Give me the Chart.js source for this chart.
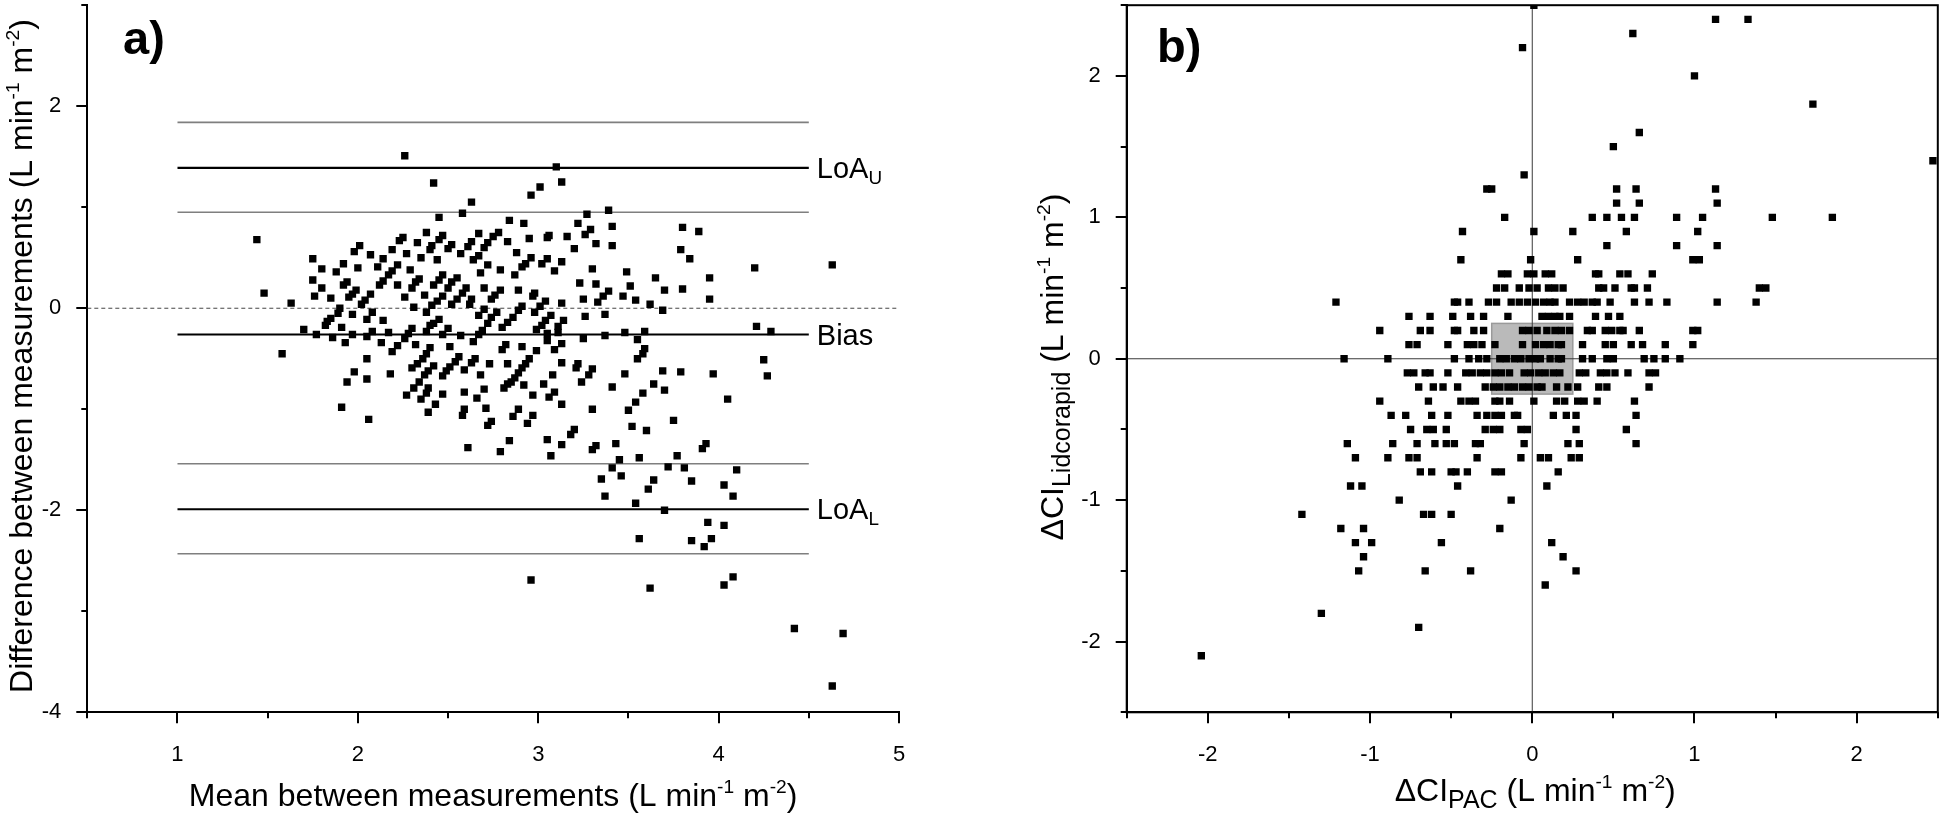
<!DOCTYPE html>
<html>
<head>
<meta charset="utf-8">
<title>Lidcorapid vs PAC: Bland-Altman and trending</title>
<script src="https://cdn.jsdelivr.net/npm/chart.js@4.4.1/dist/chart.umd.min.js"></script>
<style>
  html, body { margin: 0; padding: 0; background: #fff; }
  #wrap { position: relative; width: 1943px; height: 814px; overflow: hidden; }
  canvas { position: absolute; top: 0; }
  #panelA { left: 0; }
  #panelB { left: 960px; }
</style>
</head>
<body>
<div id="wrap">
  <canvas id="panelA" width="960" height="814"></canvas>
  <canvas id="panelB" width="983" height="814"></canvas>
</div>
<script>
const FONT = '"Liberation Sans", Arial, Helvetica, sans-serif';

// a) Bland-Altman: mean vs difference between the two measurements
const meanA = [
  2.26, 3.10, 2.42, 3.13, 3.01, 2.96, 2.63, 2.58, 3.27, 3.39, 2.45, 2.84, 2.92, 3.22, 3.41,
  3.29, 3.26, 1.44, 2.38, 2.47, 2.45, 2.67, 2.78, 2.75, 2.25, 2.23, 3.06, 3.05, 3.16, 2.95,
  2.83, 2.33, 2.52, 2.50, 2.63, 2.61, 2.72, 2.70, 2.01, 1.98, 2.19, 3.32, 3.41, 2.41, 2.40,
  3.20, 2.27, 2.07, 1.75, 2.14, 2.11, 2.35, 2.44, 2.57, 2.64, 2.67, 2.88, 2.96, 2.93, 2.91,
  3.05, 3.02, 3.13, 1.92, 2.22, 2.19, 1.80, 2.00, 2.29, 2.72, 2.68, 2.79, 3.09, 3.30, 3.49,
  1.88, 1.75, 2.17, 2.14, 2.12, 2.47, 2.45, 2.42, 2.34, 2.32, 2.30, 2.55, 2.52, 2.50, 2.87,
  1.94, 1.92, 2.22, 3.23, 3.32, 3.51, 3.65, 1.80, 1.99, 1.97, 1.95, 2.60, 2.58, 2.55, 2.52,
  2.70, 2.79, 2.76, 2.74, 2.89, 2.98, 2.97, 3.39, 3.36, 3.33, 3.47, 1.76, 1.85, 2.07, 2.04,
  2.02, 2.26, 2.37, 2.47, 2.44, 2.41, 2.38, 2.63, 2.62, 3.04, 3.01, 2.98, 3.13, 3.25, 3.54,
  3.62, 1.63, 2.31, 1.90, 1.89, 1.97, 2.08, 2.70, 2.67, 2.77, 2.74, 2.72, 2.91, 2.89, 3.37,
  1.85, 1.83, 2.14, 2.05, 2.45, 2.42, 2.86, 2.83, 2.80, 3.07, 3.04, 3.02, 2.99, 3.14, 3.11,
  3.26, 1.70, 1.82, 1.91, 1.77, 1.86, 1.93, 1.97, 2.08, 2.05, 2.17, 2.30, 2.28, 2.26, 2.40,
  2.38, 2.50, 2.47, 2.57, 2.69, 2.67, 3.05, 3.05, 3.11, 3.25, 3.37, 3.48, 3.59, 3.55, 2.13,
  2.32, 2.22, 2.19, 2.64, 2.51, 2.82, 2.80, 2.91, 2.99, 3.13, 3.09, 3.59, 3.58, 3.55, 1.58,
  2.05, 2.40, 2.38, 2.36, 2.33, 2.30, 2.56, 2.54, 2.51, 2.49, 2.47, 2.65, 2.63, 2.73, 2.83,
  2.95, 2.93, 2.91, 2.89, 2.87, 2.85, 2.83, 2.81, 3.13, 3.22, 3.21, 3.30, 3.28, 3.24, 3.48,
  1.98, 1.94, 2.18, 2.42, 2.39, 2.59, 2.68, 3.08, 2.05, 2.37, 2.34, 2.31, 2.27, 3.03, 3.41,
  3.64, 2.70, 2.39, 2.38, 2.35, 2.59, 2.47, 2.92, 2.97, 3.09, 3.06, 3.58, 3.54, 2.66, 1.91,
  2.43, 3.13, 2.39, 2.59, 2.58, 2.71, 2.89, 2.86, 3.30, 3.50, 2.06, 2.97, 2.94, 2.74, 2.72,
  3.52, 3.60, 3.20, 3.18, 2.61, 2.84, 2.79, 3.05, 3.13, 3.07, 3.32, 3.30, 3.43, 3.45, 3.56,
  3.41, 3.46, 3.35, 3.64, 1.48, 3.80, 3.89, 3.79, 3.84, 4.20, 4.63,
  3.95, 3.70, 3.80, 3.95, 3.69, 4.21, 4.29, 3.69, 3.79, 3.97, 4.25, 4.27, 3.70, 4.05, 3.75,
  3.93, 3.91, 3.77, 3.72, 3.81, 4.10, 3.85, 4.03, 4.08, 3.61, 3.37, 3.54, 3.70, 3.94, 4.03,
  3.56, 3.85, 3.96, 3.92, 2.96, 3.62, 4.03, 4.08, 4.42, 4.69, 4.63
];
const diffA = [
  1.51, 1.40, 1.24, 1.25, 1.20, 1.12, 1.05, 0.94, 0.93, 0.97, 0.90, 0.87, 0.84, 0.84, 0.81,
  0.78, 0.73, 0.68, 0.75, 0.72, 0.68, 0.74, 0.75, 0.71, 0.70, 0.67, 0.72, 0.70, 0.71, 0.69,
  0.66, 0.65, 0.63, 0.59, 0.66, 0.61, 0.65, 0.60, 0.62, 0.56, 0.58, 0.64, 0.62, 0.62, 0.58,
  0.59, 0.54, 0.53, 0.49, 0.49, 0.41, 0.50, 0.48, 0.54, 0.48, 0.52, 0.55, 0.50, 0.44, 0.41,
  0.49, 0.44, 0.46, 0.44, 0.43, 0.37, 0.39, 0.40, 0.38, 0.43, 0.35, 0.38, 0.37, 0.39, 0.36,
  0.36, 0.28, 0.33, 0.27, 0.23, 0.33, 0.28, 0.23, 0.29, 0.26, 0.20, 0.30, 0.26, 0.20, 0.33,
  0.26, 0.23, 0.23, 0.25, 0.24, 0.22, 0.30, 0.20, 0.18, 0.14, 0.11, 0.20, 0.15, 0.09, 0.04,
  0.20, 0.18, 0.13, 0.09, 0.18, 0.15, 0.12, 0.17, 0.12, 0.06, 0.12, 0.12, 0.10, 0.14, 0.08,
  0.04, 0.11, 0.13, 0.12, 0.07, 0.03, -0.04, 0.09, 0.04, 0.07, 0.02, -0.04, 0.05, 0.09, 0.08,
  0.04, 0.05, 0.01, 0.00, -0.05, -0.06, -0.04, -0.01, -0.07, -0.04, -0.09, -0.15, 0.02, -0.02, -0.06,
  -0.10, -0.13, -0.12, -0.11, -0.11, -0.15, -0.09, -0.14, -0.19, -0.07, -0.12, -0.17, -0.21, -0.12, -0.18,
  -0.08, -0.21, -0.17, -0.19, -0.26, -0.29, -0.34, -0.26, -0.23, -0.28, -0.24, -0.20, -0.25, -0.30, -0.17,
  -0.23, -0.20, -0.26, -0.27, -0.22, -0.26, -0.25, -0.32, -0.24, -0.30, -0.27, -0.24, -0.23, -0.31, -0.34,
  -0.36, -0.37, -0.43, -0.33, -0.38, -0.36, -0.41, -0.38, -0.42, -0.35, -0.41, -0.40, -0.45, -0.50, -0.45,
  -0.50, -0.39, -0.45, -0.50, -0.55, -0.59, -0.48, -0.53, -0.58, -0.62, -0.67, -0.50, -0.54, -0.55, -0.55,
  -0.50, -0.55, -0.59, -0.64, -0.69, -0.73, -0.75, -0.79, -0.54, -0.55, -0.59, -0.60, -0.66, -0.73, -0.65,
  -0.63, -0.73, -0.65, -0.57, -0.62, -0.61, -0.66, -0.66, -0.70, -0.66, -0.73, -0.79, -0.86, -0.75, -0.78,
  -0.75, -0.80, -0.79, -0.84, -0.90, -0.83, -0.85, -0.76, -0.86, -0.83, -0.88, -0.84, -0.93, -0.89, -0.98,
  -0.95, -0.95, -1.03, -1.00, -1.06, -0.99, -1.00, -1.07, -1.00, -1.01, -1.10, -1.06, -1.14, -1.12, -1.16,
  -1.17, -1.21, -1.20, -1.25, -1.38, -1.31, -1.42, -1.30, -1.35, -1.46, -1.36, -1.40, -1.34, -1.50, -1.48,
  -1.58, -1.66, -1.69, -1.70, 0.15, 0.80, 0.76, 0.58, 0.49, 0.40, 0.43,
  0.30, 0.18, 0.19, 0.09, -0.02, -0.18, -0.23, -0.62, -0.63, -0.65, -0.51, -0.67, -0.81, -0.90, -1.11,
  -1.34, -1.39, -1.46, -1.57, -1.58, -1.60, -1.71, -1.75, -1.86, -1.79, -1.86, -1.93, -2.00, -2.12, -2.15,
  -2.28, -2.30, -2.28, -2.36, -2.69, -2.77, -2.74, -2.66, -3.17, -3.22, -3.74
];

// bias, limits of agreement and the confidence band lines around them
const limitValues = [1.84, 1.39, 0.95, -0.26, -1.54, -1.99, -2.43];
const limitKinds = ['ci', 'loa', 'ci', 'bias', 'ci', 'loa', 'ci'];
const limitNames = [null, ['LoA', 'U'], null, ['Bias', ''], null, ['LoA', 'L'], null];
const limitFrom = 1;
const limitTo = 4.5;

// b) trending: each row is one ΔCI Lidcorapid value with its ΔCI PAC values
const lidcoRows = [2.5, 2.4, 2.3, 2.2, 2.0, 1.8, 1.6, 1.5, 1.4, 1.3, 1.2, 1.1, 1.0, 0.9, 0.8, 0.7, 0.6, 0.5, 0.4, 0.3, 0.2, 0.1,
  0, -0.1, -0.2, -0.3, -0.4, -0.5, -0.6, -0.7, -0.8, -0.9, -1.0, -1.1, -1.2, -1.3, -1.4, -1.5, -1.6, -1.8, -1.9, -2.1];
const pacByRow = [
  [0.01],
  [1.13, 1.33],
  [0.62],
  [-0.06],
  [1.0],
  [1.73],
  [0.66],
  [0.5],
  [2.47],
  [-0.05],
  [-0.28, -0.25, 0.52, 0.64, 1.13],
  [0.52, 0.66, 1.14],
  [-0.17, 0.37, 0.46, 0.55, 0.63, 0.89, 1.05, 1.48, 1.85],
  [-0.43, 0.01, 0.25, 0.58, 1.02],
  [0.46, 0.89, 1.14],
  [-0.44, -0.01, 0.28, 0.99, 1.03],
  [-0.19, -0.15, -0.03, 0.01, 0.08, 0.12, 0.39, 0.41, 0.54, 0.59, 0.74],
  [-0.22, -0.17, -0.08, -0.02, 0.03, 0.10, 0.14, 0.19, 0.41, 0.44, 0.51, 0.61, 0.63, 0.71, 1.40, 1.44],
  [-1.21, -0.48, -0.46, -0.39, -0.27, -0.22, -0.13, -0.08, -0.03, 0.02, 0.07, 0.11, 0.14, 0.23, 0.28, 0.32, 0.37, 0.40, 0.48, 0.63, 0.72, 0.83, 1.14, 1.38],
  [-0.76, -0.63, -0.49, -0.38, -0.30, -0.15, 0.06, 0.10, 0.14, 0.17, 0.23, 0.39, 0.47, 0.54],
  [-0.94, -0.69, -0.63, -0.48, -0.46, -0.36, -0.30, -0.06, -0.02, 0.03, 0.09, 0.14, 0.18, 0.23, 0.34, 0.37, 0.45, 0.49, 0.54, 0.56, 0.66, 0.99, 1.02],
  [-0.76, -0.71, -0.52, -0.40, -0.36, -0.31, -0.23, -0.06, 0.02, 0.07, 0.11, 0.16, 0.18, 0.31, 0.45, 0.50, 0.61, 0.68, 0.82, 0.99],
  [-1.16, -0.89, -0.48, -0.39, -0.33, -0.28, -0.20, -0.16, -0.11, -0.07, -0.02, 0.02, 0.05, 0.11, 0.16, 0.18, 0.31, 0.37, 0.46, 0.50, 0.69, 0.75, 0.82, 0.91],
  [-0.77, -0.73, -0.66, -0.63, -0.52, -0.41, -0.37, -0.32, -0.28, -0.23, -0.19, -0.14, -0.05, -0.01, 0.04, 0.08, 0.13, 0.17, 0.29, 0.33, 0.42, 0.46, 0.51, 0.59, 0.72, 0.76],
  [-0.70, -0.61, -0.55, -0.46, -0.29, -0.24, -0.20, -0.15, -0.11, -0.06, -0.02, 0.03, 0.06, 0.15, 0.22, 0.28, 0.41, 0.46, 0.72],
  [-0.94, -0.64, -0.44, -0.39, -0.35, -0.23, -0.20, -0.14, 0.01, 0.15, 0.20, 0.28, 0.32, 0.40, 0.63],
  [-0.87, -0.78, -0.62, -0.52, -0.34, -0.28, -0.23, -0.19, -0.11, -0.09, 0.13, 0.21, 0.27, 0.64],
  [-0.75, -0.65, -0.61, -0.53, -0.29, -0.24, -0.20, -0.07, -0.03, 0.27, 0.58],
  [-1.14, -0.86, -0.71, -0.60, -0.53, -0.48, -0.35, -0.32, -0.05, 0.22, 0.29, 0.64],
  [-1.09, -0.89, -0.76, -0.71, -0.34, -0.07, 0.05, 0.10, 0.24, 0.29],
  [-0.69, -0.62, -0.50, -0.47, -0.40, -0.23, -0.19, 0.16],
  [-1.12, -1.05, -0.46, 0.09],
  [-0.82, -0.13],
  [-1.42, -0.67, -0.62, -0.50],
  [-1.18, -1.04, -0.20],
  [-1.09, -0.99, -0.56, 0.12],
  [-1.04, 0.19],
  [-1.07, -0.66, -0.38, 0.27],
  [0.08],
  [-1.30],
  [-0.70],
  [-2.04]
];
// grey square of "no change" around the origin
const zoneHalf = 0.25;

const isMajor = (v, step) => Math.abs(v / step - Math.round(v / step)) < 1e-6;

function linearAxis(min, max, step, majorStep, size, isX) {
  return {
    type: 'linear',
    min: min,
    max: max,
    grid: { display: false },
    border: { display: true, color: '#000', width: 2 },
    ticks: {
      stepSize: step,
      autoSkip: false,
      maxRotation: 0,
      color: '#000',
      font: { family: FONT, size: 22 },
      padding: isX ? 21 : 18,
      callback: v => isMajor(v, majorStep) ? String(Math.round(v)) : ''
    },
    afterFit: s => {
      if (isX) s.height = size; else s.width = size;
      s.paddingLeft = 0; s.paddingRight = 0; s.paddingTop = 0; s.paddingBottom = 0;
    }
  };
}

// major / minor tick marks drawn outward on left and bottom axes
function tickMarks(xMajor, yMajor) {
  return {
    id: 'tickMarks',
    afterDraw(chart) {
      const { ctx } = chart;
      const xs = chart.scales.x, ys = chart.scales.y;
      ctx.save();
      ctx.strokeStyle = '#000';
      ctx.lineWidth = 2;
      ctx.beginPath();
      xs.ticks.forEach(t => {
        const p = Math.round(xs.getPixelForValue(t.value));
        const len = isMajor(t.value, xMajor) ? 11 : 6;
        ctx.moveTo(p, xs.top); ctx.lineTo(p, xs.top + len);
      });
      ys.ticks.forEach(t => {
        const p = Math.round(ys.getPixelForValue(t.value));
        const len = isMajor(t.value, yMajor) ? 11 : 6;
        ctx.moveTo(ys.right - len, p); ctx.lineTo(ys.right, p);
      });
      ctx.stroke();
      ctx.restore();
    }
  };
}

// text with super/subscripts: parts = [[text, ''|'sup'|'sub'], ...]
function drawRich(ctx, parts, x, y, size, opts) {
  const o = Object.assign({ align: 'left', angle: 0, subScale: 0.78, subDrop: 0.22 }, opts);
  const fontFor = k => {
    const s = k === 'sup' ? size * 0.6 : k === 'sub' ? size * o.subScale : size;
    return s.toFixed(1) + 'px ' + FONT;
  };
  ctx.save();
  ctx.translate(x, y);
  if (o.angle) ctx.rotate(o.angle);
  ctx.fillStyle = '#000';
  ctx.textAlign = 'left';
  ctx.textBaseline = 'alphabetic';
  const widths = parts.map(([t, k]) => { ctx.font = fontFor(k); return ctx.measureText(t).width; });
  const total = widths.reduce((a, b) => a + b, 0);
  let cx = o.align === 'center' ? -total / 2 : 0;
  parts.forEach(([t, k], i) => {
    ctx.font = fontFor(k);
    const dy = k === 'sup' ? -size * 0.42 : k === 'sub' ? size * o.subDrop : 0;
    ctx.fillText(t, cx, dy);
    cx += widths[i];
  });
  ctx.restore();
}

const unitParts = [[' (L min', ''], ['-1', 'sup'], [' m', ''], ['-2', 'sup'], [')', '']];

const squarePoints = {
  pointStyle: 'rect',
  pointRadius: 5.2,
  pointHoverRadius: 5.2,
  pointBackgroundColor: '#000',
  pointBorderWidth: 0,
  showLine: false,
  order: 0
};

function hLine(y, x0, x1, color, width, dash, order) {
  return {
    data: [{ x: x0, y: y }, { x: x1, y: y }],
    showLine: true, pointRadius: 0, pointHoverRadius: 0,
    borderColor: color, borderWidth: width, borderDash: dash || [], order: order
  };
}

// ---------- panel a ----------
const limitSets = limitValues.map((v, i) => limitKinds[i] === 'ci'
  ? hLine(v, limitFrom, limitTo, '#7f7f7f', 1.6, null, 2)
  : hLine(v, limitFrom, limitTo, '#000', 2.2, null, 1));

const panelAText = {
  id: 'panelAText',
  afterDraw(chart) {
    const { ctx, chartArea } = chart;
    const xs = chart.scales.x, ys = chart.scales.y;
    const lx = xs.getPixelForValue(limitTo) + 8;
    limitValues.forEach((v, i) => {
      const name = limitNames[i];
      if (!name) return;
      drawRich(ctx, [[name[0], ''], [name[1], 'sub']], lx, ys.getPixelForValue(v) + 10, 29,
        { subScale: 0.65, subDrop: 0.2 });
    });
    ctx.save();
    ctx.fillStyle = '#000';
    ctx.font = 'bold 47px ' + FONT;
    ctx.textBaseline = 'alphabetic';
    ctx.fillText('a)', 123, 54);
    ctx.restore();
    drawRich(ctx, [['Mean between measurements', '']].concat(unitParts),
      (chartArea.left + chartArea.right) / 2, 806, 32, { align: 'center' });
    drawRich(ctx, [['Difference between measurements', '']].concat(unitParts),
      32, 356, 32, { align: 'center', angle: -Math.PI / 2 });
  }
};

new Chart(document.getElementById('panelA'), {
  type: 'scatter',
  data: {
    datasets: [
      Object.assign({ data: meanA.map((m, i) => ({ x: m, y: diffA[i] })) }, squarePoints),
      hLine(0, 0.5, 5, '#444', 1, [4, 3], 3)
    ].concat(limitSets)
  },
  options: {
    responsive: false,
    animation: false,
    layout: { padding: { left: 0, right: 61, top: 1, bottom: 0 } },
    plugins: { legend: { display: false }, tooltip: { enabled: false } },
    scales: {
      x: linearAxis(0.5, 5, 0.5, 1, 101.7, true),
      y: linearAxis(-4, 3, 1, 2, 87.3, false)
    }
  },
  plugins: [tickMarks(1, 2), panelAText]
});

// ---------- panel b ----------
const pointsB = [];
lidcoRows.forEach((row, i) => pacByRow[i].forEach(p => pointsB.push({ x: p, y: row })));

const panelBDecor = {
  id: 'panelBDecor',
  beforeDatasetsDraw(chart) {
    const { ctx } = chart;
    const xs = chart.scales.x, ys = chart.scales.y;
    const x0 = xs.getPixelForValue(-zoneHalf), x1 = xs.getPixelForValue(zoneHalf);
    const y0 = ys.getPixelForValue(zoneHalf), y1 = ys.getPixelForValue(-zoneHalf);
    ctx.save();
    ctx.fillStyle = 'rgba(140,140,140,0.6)';
    ctx.fillRect(x0, y0, x1 - x0, y1 - y0);
    ctx.strokeStyle = '#9a9a9a';
    ctx.lineWidth = 1.5;
    ctx.strokeRect(x0, y0, x1 - x0, y1 - y0);
    ctx.restore();
  },
  afterDraw(chart) {
    const { ctx, chartArea } = chart;
    ctx.save();
    ctx.strokeStyle = '#000';
    ctx.lineWidth = 2;
    ctx.strokeRect(chartArea.left, chartArea.top, chartArea.right - chartArea.left, chartArea.bottom - chartArea.top);
    ctx.fillStyle = '#000';
    ctx.font = 'bold 47px ' + FONT;
    ctx.fillText('b)', 197, 62);
    ctx.restore();
    drawRich(ctx, [['ΔCI', ''], ['PAC', 'sub']].concat(unitParts),
      (chartArea.left + chartArea.right) / 2 + 3, 801, 32, { align: 'center' });
    drawRich(ctx, [['ΔCI', ''], ['Lidcorapid', 'sub']].concat(unitParts),
      103, 367, 32, { align: 'center', angle: -Math.PI / 2 });
  }
};

new Chart(document.getElementById('panelB'), {
  type: 'scatter',
  data: {
    datasets: [
      Object.assign({ data: pointsB }, squarePoints),
      hLine(0, -2.5, 2.5, '#3a3a3a', 1, null, 1),
      {
        data: [{ x: 0, y: -2.5 }, { x: 0, y: 2.5 }],
        showLine: true, pointRadius: 0, pointHoverRadius: 0,
        borderColor: '#3a3a3a', borderWidth: 1, order: 1
      }
    ]
  },
  options: {
    responsive: false,
    animation: false,
    layout: { padding: { left: 0, right: 2.3, top: 1, bottom: 0 } },
    plugins: { legend: { display: false }, tooltip: { enabled: false } },
    scales: {
      x: linearAxis(-2.5, 2.5, 0.5, 1, 101.7, true),
      y: linearAxis(-2.5, 2.5, 0.5, 1, 166.7, false)
    }
  },
  plugins: [tickMarks(1, 1), panelBDecor]
});
</script>
</body>
</html>
